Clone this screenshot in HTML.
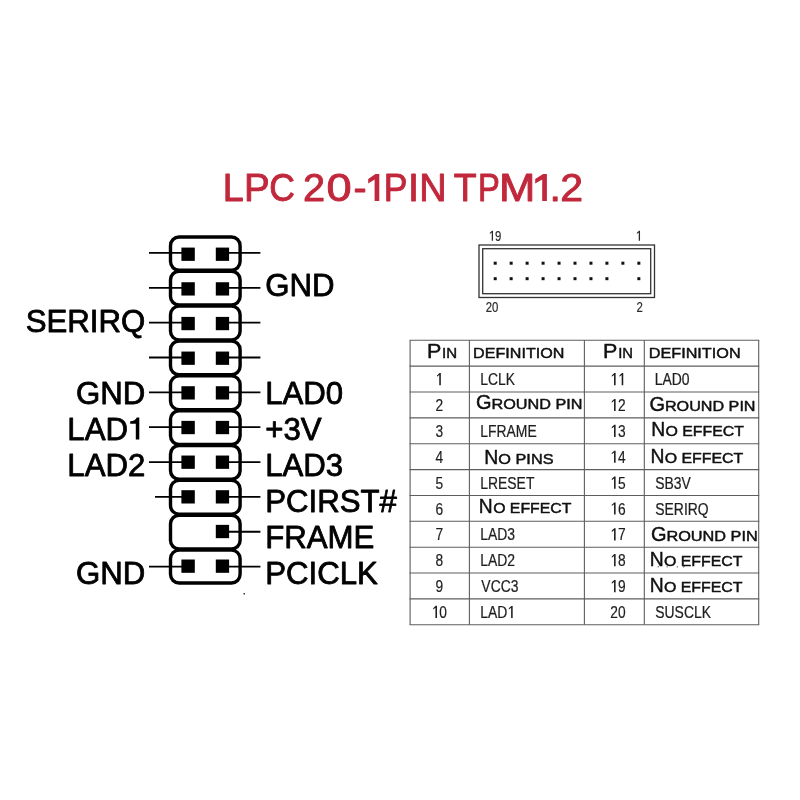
<!DOCTYPE html>
<html><head><meta charset="utf-8"><title>LPC 20-1PIN TPM1.2</title>
<style>html,body{margin:0;padding:0;background:#fff;}body{width:800px;height:800px;overflow:hidden;font-family:"Liberation Sans", sans-serif;}svg{display:block;will-change:transform;}text{font-family:"Liberation Sans", sans-serif;font-kerning:none;}</style>
</head><body>
<svg width="800" height="800" viewBox="0 0 800 800">
<rect x="0" y="0" width="800" height="800" fill="#ffffff"/>
<g>
<text transform="translate(222.66 200.90) scale(0.9754 1)" font-size="38.60" fill="#c1283b" stroke="#c1283b" stroke-width="0.90" stroke-linejoin="round">L</text>
<text transform="translate(243.89 200.90) scale(0.9979 1)" font-size="38.60" fill="#c1283b" stroke="#c1283b" stroke-width="0.90" stroke-linejoin="round">P</text>
<text transform="translate(269.35 200.90) scale(0.9204 1)" font-size="38.60" fill="#c1283b" stroke="#c1283b" stroke-width="0.90" stroke-linejoin="round">C</text>
<text transform="translate(303.05 200.90) scale(1.0293 1)" font-size="38.60" fill="#c1283b" stroke="#c1283b" stroke-width="0.90" stroke-linejoin="round">2</text>
<text transform="translate(326.38 200.90) scale(1.1706 1)" font-size="38.60" fill="#c1283b" stroke="#c1283b" stroke-width="0.90" stroke-linejoin="round">0</text>
<text transform="translate(353.50 200.90) scale(1.0187 1)" font-size="38.60" fill="#c1283b" stroke="#c1283b" stroke-width="0.90" stroke-linejoin="round">-</text>
<path d="M379.30 201.10 H374.60 V179.50 L368.20 183.50 V179.07 L375.49 173.90 H379.30 Z" fill="#c1283b"/>
<text transform="translate(383.74 200.90) scale(0.9200 1)" font-size="38.60" fill="#c1283b" stroke="#c1283b" stroke-width="0.90" stroke-linejoin="round">P</text>
<text transform="translate(407.99 200.90) scale(1.0278 1)" font-size="38.60" fill="#c1283b" stroke="#c1283b" stroke-width="0.90" stroke-linejoin="round">I</text>
<text transform="translate(419.15 200.90) scale(0.9786 1)" font-size="38.60" fill="#c1283b" stroke="#c1283b" stroke-width="0.90" stroke-linejoin="round">N</text>
<text transform="translate(453.71 200.90) scale(0.9713 1)" font-size="38.60" fill="#c1283b" stroke="#c1283b" stroke-width="0.90" stroke-linejoin="round">T</text>
<text transform="translate(478.07 200.90) scale(0.8470 1)" font-size="38.60" fill="#c1283b" stroke="#c1283b" stroke-width="0.90" stroke-linejoin="round">P</text>
<text transform="translate(499.07 200.90) scale(1.1308 1)" font-size="38.60" fill="#c1283b" stroke="#c1283b" stroke-width="0.90" stroke-linejoin="round">M</text>
<path d="M546.90 201.10 H542.20 V179.50 L535.20 183.50 V179.07 L543.09 173.90 H546.90 Z" fill="#c1283b"/>
<text transform="translate(549.51 200.90) scale(1.0611 1)" font-size="38.60" fill="#c1283b" stroke="#c1283b" stroke-width="0.90" stroke-linejoin="round">.</text>
<text transform="translate(560.19 200.90) scale(1.0634 1)" font-size="38.60" fill="#c1283b" stroke="#c1283b" stroke-width="0.90" stroke-linejoin="round">2</text>
</g>
<g fill="none" stroke="#000" stroke-width="3.4">
<rect x="170.50" y="237.05" width="69.60" height="33.15" rx="8.6" ry="8.6"/>
<rect x="170.50" y="271.30" width="69.60" height="33.75" rx="8.6" ry="8.6"/>
<rect x="170.50" y="306.15" width="69.60" height="33.75" rx="8.6" ry="8.6"/>
<rect x="170.50" y="341.00" width="69.60" height="33.75" rx="8.6" ry="8.6"/>
<rect x="170.50" y="375.85" width="69.60" height="33.75" rx="8.6" ry="8.6"/>
<rect x="170.50" y="410.70" width="69.60" height="33.75" rx="8.6" ry="8.6"/>
<rect x="170.50" y="445.55" width="69.60" height="33.75" rx="8.6" ry="8.6"/>
<rect x="170.50" y="480.40" width="69.60" height="33.75" rx="8.6" ry="8.6"/>
<rect x="170.50" y="515.25" width="69.60" height="33.75" rx="8.6" ry="8.6"/>
<rect x="170.50" y="550.10" width="69.60" height="32.85" rx="8.6" ry="8.6"/>
</g>
<g stroke="#000" stroke-width="1.8">
<line x1="149.0" y1="252.93" x2="188" y2="252.93"/>
<line x1="222" y1="252.93" x2="260.4" y2="252.93"/>
<line x1="149.0" y1="287.78" x2="188" y2="287.78"/>
<line x1="222" y1="287.78" x2="260.4" y2="287.78"/>
<line x1="149.0" y1="322.63" x2="188" y2="322.63"/>
<line x1="222" y1="322.63" x2="260.4" y2="322.63"/>
<line x1="149.0" y1="357.48" x2="188" y2="357.48"/>
<line x1="222" y1="357.48" x2="260.4" y2="357.48"/>
<line x1="149.0" y1="392.33" x2="188" y2="392.33"/>
<line x1="222" y1="392.33" x2="260.4" y2="392.33"/>
<line x1="149.0" y1="427.18" x2="188" y2="427.18"/>
<line x1="222" y1="427.18" x2="260.4" y2="427.18"/>
<line x1="149.0" y1="462.03" x2="188" y2="462.03"/>
<line x1="222" y1="462.03" x2="260.4" y2="462.03"/>
<line x1="155.0" y1="496.88" x2="188" y2="496.88"/>
<line x1="222" y1="496.88" x2="260.4" y2="496.88"/>
<line x1="222" y1="531.73" x2="260.4" y2="531.73"/>
<line x1="149.0" y1="566.58" x2="188" y2="566.58"/>
<line x1="222" y1="566.58" x2="260.4" y2="566.58"/>
</g>
<g fill="#000">
<rect x="181.4" y="247.58" width="13.4" height="13.3"/>
<rect x="215.8" y="247.58" width="13.3" height="13.3"/>
<rect x="181.4" y="282.24" width="13.4" height="13.3"/>
<rect x="215.8" y="282.24" width="13.3" height="13.3"/>
<rect x="181.4" y="316.90" width="13.4" height="13.3"/>
<rect x="215.8" y="316.90" width="13.3" height="13.3"/>
<rect x="181.4" y="351.56" width="13.4" height="13.3"/>
<rect x="215.8" y="351.56" width="13.3" height="13.3"/>
<rect x="181.4" y="386.22" width="13.4" height="13.3"/>
<rect x="215.8" y="386.22" width="13.3" height="13.3"/>
<rect x="181.4" y="420.88" width="13.4" height="13.3"/>
<rect x="215.8" y="420.88" width="13.3" height="13.3"/>
<rect x="181.4" y="455.54" width="13.4" height="13.3"/>
<rect x="215.8" y="455.54" width="13.3" height="13.3"/>
<rect x="181.4" y="490.20" width="13.4" height="13.3"/>
<rect x="215.8" y="490.20" width="13.3" height="13.3"/>
<rect x="215.8" y="524.86" width="13.3" height="13.3"/>
<rect x="181.4" y="559.51" width="13.4" height="13.3"/>
<rect x="215.8" y="559.51" width="13.3" height="13.3"/>
<rect x="243.5" y="593" width="1.5" height="1.5" fill="#333"/>
</g>
<g>
<text transform="translate(25.67 331.55) scale(1.0000 1)" font-size="31.20" fill="#000" stroke="#000" stroke-width="0.80" stroke-linejoin="round">SERIRQ</text>
<text transform="translate(75.96 403.55) scale(1.0000 1)" font-size="31.20" fill="#000" stroke="#000" stroke-width="0.80" stroke-linejoin="round">GND</text>
<text transform="translate(67.32 439.55) scale(1.0000 1)" font-size="31.20" fill="#000" stroke="#000" stroke-width="0.80" stroke-linejoin="round">LAD</text>
<path d="M139.3 439.55 h-3.5 v-15.9 h-5.6 v-2.4 c3.3 -0.2 5.6 -1.3 6.6 -3.7 h2.5 z" fill="#000"/>
<text transform="translate(67.32 475.55) scale(1.0000 1)" font-size="31.20" fill="#000" stroke="#000" stroke-width="0.80" stroke-linejoin="round">LAD2</text>
<text transform="translate(75.96 583.55) scale(1.0000 1)" font-size="31.20" fill="#000" stroke="#000" stroke-width="0.80" stroke-linejoin="round">GND</text>
<text transform="translate(265.13 296.05) scale(1.0000 1)" font-size="31.20" fill="#000" stroke="#000" stroke-width="0.80" stroke-linejoin="round">GND</text>
<text transform="translate(265.14 403.55) scale(1.0000 1)" font-size="31.20" fill="#000" stroke="#000" stroke-width="0.80" stroke-linejoin="round">LAD0</text>
<text transform="translate(265.18 439.55) scale(1.0000 1)" font-size="31.20" fill="#000" stroke="#000" stroke-width="0.80" stroke-linejoin="round">+3V</text>
<text transform="translate(265.14 475.55) scale(1.0000 1)" font-size="31.20" fill="#000" stroke="#000" stroke-width="0.80" stroke-linejoin="round">LAD3</text>
<text transform="translate(265.14 511.55) scale(1.0000 1)" font-size="31.20" fill="#000" stroke="#000" stroke-width="0.80" stroke-linejoin="round">PCIRST#</text>
<text transform="translate(265.14 547.55) scale(1.0000 1)" font-size="31.20" fill="#000" stroke="#000" stroke-width="0.80" stroke-linejoin="round">FRAME</text>
<text transform="translate(265.14 583.55) scale(1.0000 1)" font-size="31.20" fill="#000" stroke="#000" stroke-width="0.80" stroke-linejoin="round">PCICLK</text>
</g>
<g fill="none" stroke="#333" stroke-width="1.3">
<rect x="479" y="245" width="175.5" height="52.5"/>
<rect x="482.7" y="248.7" width="168" height="45"/>
</g>
<g fill="#111">
<rect x="493.70" y="261.7" width="3" height="3"/>
<rect x="493.70" y="277.2" width="3" height="3"/>
<rect x="509.66" y="261.7" width="3" height="3"/>
<rect x="509.66" y="277.2" width="3" height="3"/>
<rect x="525.62" y="261.7" width="3" height="3"/>
<rect x="525.62" y="277.2" width="3" height="3"/>
<rect x="541.58" y="261.7" width="3" height="3"/>
<rect x="541.58" y="277.2" width="3" height="3"/>
<rect x="557.54" y="261.7" width="3" height="3"/>
<rect x="557.54" y="277.2" width="3" height="3"/>
<rect x="573.50" y="261.7" width="3" height="3"/>
<rect x="573.50" y="277.2" width="3" height="3"/>
<rect x="589.46" y="261.7" width="3" height="3"/>
<rect x="589.46" y="277.2" width="3" height="3"/>
<rect x="605.42" y="261.7" width="3" height="3"/>
<rect x="605.42" y="277.2" width="3" height="3"/>
<rect x="621.38" y="261.7" width="3" height="3"/>
<rect x="637.34" y="261.7" width="3" height="3"/>
<rect x="637.34" y="277.2" width="3" height="3"/>
</g>
<path d="M493.02 240.80 H491.74 V232.43 L489.86 233.89 V232.75 L491.99 230.86 H493.02 Z" fill="#2a2a2a"/>
<text transform="translate(494.92 240.80) scale(0.8000 1)" font-size="14.20" fill="#2a2a2a" stroke="#2a2a2a" stroke-width="0.2">9</text>
<path d="M640.02 240.80 H638.74 V232.43 L636.86 233.89 V232.75 L638.99 230.86 H640.02 Z" fill="#2a2a2a"/>
<text transform="translate(485.80 312.30) scale(0.8000 1)" font-size="14.20" fill="#2a2a2a" stroke="#2a2a2a" stroke-width="0.2">2</text>
<text transform="translate(492.12 312.30) scale(0.8000 1)" font-size="14.20" fill="#2a2a2a" stroke="#2a2a2a" stroke-width="0.2">0</text>
<text transform="translate(636.60 312.30) scale(0.8000 1)" font-size="14.20" fill="#2a2a2a" stroke="#2a2a2a" stroke-width="0.2">2</text>
<g fill="none" stroke="#5e5e5e" stroke-width="1.1">
<line x1="409.55" y1="340.30" x2="759.25" y2="340.30"/>
<line x1="409.55" y1="366.16" x2="759.25" y2="366.16"/>
<line x1="409.55" y1="392.02" x2="759.25" y2="392.02"/>
<line x1="409.55" y1="417.88" x2="759.25" y2="417.88"/>
<line x1="409.55" y1="443.74" x2="759.25" y2="443.74"/>
<line x1="409.55" y1="469.60" x2="759.25" y2="469.60"/>
<line x1="409.55" y1="495.46" x2="759.25" y2="495.46"/>
<line x1="409.55" y1="521.32" x2="759.25" y2="521.32"/>
<line x1="409.55" y1="547.18" x2="759.25" y2="547.18"/>
<line x1="409.55" y1="573.04" x2="759.25" y2="573.04"/>
<line x1="409.55" y1="598.90" x2="759.25" y2="598.90"/>
<line x1="409.55" y1="624.76" x2="759.25" y2="624.76"/>
<line x1="410.10" y1="340.30" x2="410.10" y2="624.76"/>
<line x1="469.40" y1="340.30" x2="469.40" y2="624.76"/>
<line x1="584.40" y1="340.30" x2="584.40" y2="624.76"/>
<line x1="644.30" y1="340.30" x2="644.30" y2="624.76"/>
<line x1="758.70" y1="340.30" x2="758.70" y2="624.76"/>
</g>
<g fill="#555"><rect x="657.6" y="566.2" width="1.2" height="1.1"/><rect x="666.6" y="566.3" width="1.2" height="1.1"/><rect x="676.8" y="566.3" width="1.2" height="1.1"/></g>
<g stroke="#444" stroke-width="0.9" fill="none"><path d="M683.0 567.4 L685.2 565.6"/><path d="M702.2 567.2 L703.6 565.6"/></g>
<text transform="translate(426.96 358.10) scale(1.1089 1)" font-size="19.40" fill="#101010" stroke="#101010" stroke-width="0.45" stroke-linejoin="round">P</text>
<text transform="translate(442.03 358.10) scale(1.0465 1)" font-size="14.40" fill="#101010" stroke="#101010" stroke-width="0.45" stroke-linejoin="round">IN</text>
<text transform="translate(473.10 358.10) scale(1.1200 1)" font-size="14.40" fill="#101010" stroke="#101010" stroke-width="0.45" stroke-linejoin="round">DEFINITION</text>
<text transform="translate(603.06 358.10) scale(1.1089 1)" font-size="19.40" fill="#101010" stroke="#101010" stroke-width="0.45" stroke-linejoin="round">P</text>
<text transform="translate(618.16 358.10) scale(1.0297 1)" font-size="14.40" fill="#101010" stroke="#101010" stroke-width="0.45" stroke-linejoin="round">IN</text>
<text transform="translate(648.69 358.10) scale(1.1276 1)" font-size="14.40" fill="#101010" stroke="#101010" stroke-width="0.45" stroke-linejoin="round">DEFINITION</text>
<path d="M440.83 385.26 H439.26 V375.00 L437.01 376.79 V375.39 L439.56 373.08 H440.83 Z" fill="#1e1e1e"/>
<path d="M615.61 385.26 H614.04 V375.00 L611.79 376.79 V375.39 L614.34 373.08 H615.61 Z" fill="#1e1e1e"/>
<path d="M623.25 385.26 H621.68 V375.00 L619.43 376.79 V375.39 L621.98 373.08 H623.25 Z" fill="#1e1e1e"/>
<text transform="translate(480.28 385.26) scale(0.8050 1)" font-size="17.30" fill="#1e1e1e" stroke="#1e1e1e" stroke-width="0.25" stroke-linejoin="round">LCLK</text>
<text transform="translate(654.78 385.26) scale(0.8050 1)" font-size="17.30" fill="#1e1e1e" stroke="#1e1e1e" stroke-width="0.25" stroke-linejoin="round">LAD0</text>
<text transform="translate(435.48 411.12) scale(0.7900 1)" font-size="17.40" fill="#1e1e1e" stroke="#1e1e1e" stroke-width="0.2">2</text>
<path d="M615.61 411.12 H614.04 V400.86 L611.79 402.65 V401.25 L614.34 398.94 H615.61 Z" fill="#1e1e1e"/>
<text transform="translate(617.90 411.12) scale(0.7900 1)" font-size="17.40" fill="#1e1e1e" stroke="#1e1e1e" stroke-width="0.2">2</text>
<text transform="translate(476.02 409.30) scale(1.0304 1)" font-size="19.40" fill="#101010" stroke="#101010" stroke-width="0.45" stroke-linejoin="round">G</text>
<text transform="translate(491.49 409.30) scale(1.1515 1)" font-size="14.10" fill="#101010" stroke="#101010" stroke-width="0.45" stroke-linejoin="round">ROUND PIN</text>
<text transform="translate(649.47 410.90) scale(1.0304 1)" font-size="19.40" fill="#101010" stroke="#101010" stroke-width="0.45" stroke-linejoin="round">G</text>
<text transform="translate(664.90 410.90) scale(1.1463 1)" font-size="14.10" fill="#101010" stroke="#101010" stroke-width="0.45" stroke-linejoin="round">ROUND PIN</text>
<text transform="translate(435.48 436.98) scale(0.7900 1)" font-size="17.40" fill="#1e1e1e" stroke="#1e1e1e" stroke-width="0.2">3</text>
<path d="M615.61 436.98 H614.04 V426.72 L611.79 428.51 V427.11 L614.34 424.80 H615.61 Z" fill="#1e1e1e"/>
<text transform="translate(617.90 436.98) scale(0.7900 1)" font-size="17.40" fill="#1e1e1e" stroke="#1e1e1e" stroke-width="0.2">3</text>
<text transform="translate(480.28 436.98) scale(0.8050 1)" font-size="17.30" fill="#1e1e1e" stroke="#1e1e1e" stroke-width="0.25" stroke-linejoin="round">LFRAME</text>
<text transform="translate(651.14 436.40) scale(0.9966 1)" font-size="19.40" fill="#101010" stroke="#101010" stroke-width="0.45" stroke-linejoin="round">N</text>
<text transform="translate(665.47 436.40) scale(1.1284 1)" font-size="14.10" fill="#101010" stroke="#101010" stroke-width="0.45" stroke-linejoin="round">O EFFECT</text>
<text transform="translate(435.48 462.84) scale(0.7900 1)" font-size="17.40" fill="#1e1e1e" stroke="#1e1e1e" stroke-width="0.2">4</text>
<path d="M615.61 462.84 H614.04 V452.58 L611.79 454.37 V452.97 L614.34 450.66 H615.61 Z" fill="#1e1e1e"/>
<text transform="translate(617.90 462.84) scale(0.7900 1)" font-size="17.40" fill="#1e1e1e" stroke="#1e1e1e" stroke-width="0.2">4</text>
<text transform="translate(484.23 463.60) scale(1.0012 1)" font-size="19.40" fill="#101010" stroke="#101010" stroke-width="0.45" stroke-linejoin="round">N</text>
<text transform="translate(498.35 463.60) scale(1.1543 1)" font-size="14.10" fill="#101010" stroke="#101010" stroke-width="0.45" stroke-linejoin="round">O PINS</text>
<text transform="translate(650.39 463.10) scale(0.9966 1)" font-size="19.40" fill="#101010" stroke="#101010" stroke-width="0.45" stroke-linejoin="round">N</text>
<text transform="translate(664.72 463.10) scale(1.1284 1)" font-size="14.10" fill="#101010" stroke="#101010" stroke-width="0.45" stroke-linejoin="round">O EFFECT</text>
<text transform="translate(435.48 488.70) scale(0.7900 1)" font-size="17.40" fill="#1e1e1e" stroke="#1e1e1e" stroke-width="0.2">5</text>
<path d="M615.61 488.70 H614.04 V478.44 L611.79 480.23 V478.83 L614.34 476.52 H615.61 Z" fill="#1e1e1e"/>
<text transform="translate(617.90 488.70) scale(0.7900 1)" font-size="17.40" fill="#1e1e1e" stroke="#1e1e1e" stroke-width="0.2">5</text>
<text transform="translate(480.28 488.70) scale(0.8050 1)" font-size="17.30" fill="#1e1e1e" stroke="#1e1e1e" stroke-width="0.25" stroke-linejoin="round">LRESET</text>
<text transform="translate(655.29 488.70) scale(0.8050 1)" font-size="17.30" fill="#1e1e1e" stroke="#1e1e1e" stroke-width="0.25" stroke-linejoin="round">SB3V</text>
<text transform="translate(435.48 514.56) scale(0.7900 1)" font-size="17.40" fill="#1e1e1e" stroke="#1e1e1e" stroke-width="0.2">6</text>
<path d="M615.61 514.56 H614.04 V504.30 L611.79 506.09 V504.69 L614.34 502.38 H615.61 Z" fill="#1e1e1e"/>
<text transform="translate(617.90 514.56) scale(0.7900 1)" font-size="17.40" fill="#1e1e1e" stroke="#1e1e1e" stroke-width="0.2">6</text>
<text transform="translate(478.85 513.10) scale(0.9920 1)" font-size="19.40" fill="#101010" stroke="#101010" stroke-width="0.45" stroke-linejoin="round">N</text>
<text transform="translate(493.18 513.10) scale(1.1226 1)" font-size="14.10" fill="#101010" stroke="#101010" stroke-width="0.45" stroke-linejoin="round">O EFFECT</text>
<text transform="translate(655.29 514.56) scale(0.8050 1)" font-size="17.30" fill="#1e1e1e" stroke="#1e1e1e" stroke-width="0.25" stroke-linejoin="round">SERIRQ</text>
<text transform="translate(435.48 540.42) scale(0.7900 1)" font-size="17.40" fill="#1e1e1e" stroke="#1e1e1e" stroke-width="0.2">7</text>
<path d="M615.61 540.42 H614.04 V530.16 L611.79 531.95 V530.55 L614.34 528.24 H615.61 Z" fill="#1e1e1e"/>
<text transform="translate(617.90 540.42) scale(0.7900 1)" font-size="17.40" fill="#1e1e1e" stroke="#1e1e1e" stroke-width="0.2">7</text>
<text transform="translate(480.28 540.42) scale(0.8050 1)" font-size="17.30" fill="#1e1e1e" stroke="#1e1e1e" stroke-width="0.25" stroke-linejoin="round">LAD3</text>
<text transform="translate(650.97 540.50) scale(1.0304 1)" font-size="19.40" fill="#101010" stroke="#101010" stroke-width="0.45" stroke-linejoin="round">G</text>
<text transform="translate(666.39 540.50) scale(1.1560 1)" font-size="14.10" fill="#101010" stroke="#101010" stroke-width="0.45" stroke-linejoin="round">ROUND PIN</text>
<text transform="translate(435.48 566.28) scale(0.7900 1)" font-size="17.40" fill="#1e1e1e" stroke="#1e1e1e" stroke-width="0.2">8</text>
<path d="M615.61 566.28 H614.04 V556.02 L611.79 557.81 V556.41 L614.34 554.10 H615.61 Z" fill="#1e1e1e"/>
<text transform="translate(617.90 566.28) scale(0.7900 1)" font-size="17.40" fill="#1e1e1e" stroke="#1e1e1e" stroke-width="0.2">8</text>
<text transform="translate(480.28 566.28) scale(0.8050 1)" font-size="17.30" fill="#1e1e1e" stroke="#1e1e1e" stroke-width="0.25" stroke-linejoin="round">LAD2</text>
<text transform="translate(649.64 566.00) scale(0.9966 1)" font-size="19.40" fill="#101010" stroke="#101010" stroke-width="0.45" stroke-linejoin="round">N</text>
<text transform="translate(663.97 566.00) scale(1.1284 1)" font-size="14.10" fill="#101010" stroke="#101010" stroke-width="0.45" stroke-linejoin="round">O EFFECT</text>
<text transform="translate(435.48 592.14) scale(0.7900 1)" font-size="17.40" fill="#1e1e1e" stroke="#1e1e1e" stroke-width="0.2">9</text>
<path d="M615.61 592.14 H614.04 V581.88 L611.79 583.67 V582.27 L614.34 579.96 H615.61 Z" fill="#1e1e1e"/>
<text transform="translate(617.90 592.14) scale(0.7900 1)" font-size="17.40" fill="#1e1e1e" stroke="#1e1e1e" stroke-width="0.2">9</text>
<text transform="translate(481.36 592.14) scale(0.8050 1)" font-size="17.30" fill="#1e1e1e" stroke="#1e1e1e" stroke-width="0.25" stroke-linejoin="round">VCC3</text>
<text transform="translate(649.64 591.80) scale(0.9966 1)" font-size="19.40" fill="#101010" stroke="#101010" stroke-width="0.45" stroke-linejoin="round">N</text>
<text transform="translate(663.97 591.80) scale(1.1284 1)" font-size="14.10" fill="#101010" stroke="#101010" stroke-width="0.45" stroke-linejoin="round">O EFFECT</text>
<path d="M437.01 618.00 H435.44 V607.74 L433.19 609.53 V608.13 L435.74 605.82 H437.01 Z" fill="#1e1e1e"/>
<text transform="translate(439.30 618.00) scale(0.7900 1)" font-size="17.40" fill="#1e1e1e" stroke="#1e1e1e" stroke-width="0.2">0</text>
<text transform="translate(610.26 618.00) scale(0.7900 1)" font-size="17.40" fill="#1e1e1e" stroke="#1e1e1e" stroke-width="0.2">2</text>
<text transform="translate(617.90 618.00) scale(0.7900 1)" font-size="17.40" fill="#1e1e1e" stroke="#1e1e1e" stroke-width="0.2">0</text>
<text transform="translate(480.28 618.00) scale(0.8050 1)" font-size="17.30" fill="#1e1e1e" stroke="#1e1e1e" stroke-width="0.25" stroke-linejoin="round">LAD</text>
<path d="M512.67 618.00 H511.11 V607.80 L508.80 609.58 V608.19 L511.41 605.89 H512.67 Z" fill="#1e1e1e"/>
<text transform="translate(655.29 618.00) scale(0.8050 1)" font-size="17.30" fill="#1e1e1e" stroke="#1e1e1e" stroke-width="0.25" stroke-linejoin="round">SUSCLK</text>
</svg>
</body></html>
